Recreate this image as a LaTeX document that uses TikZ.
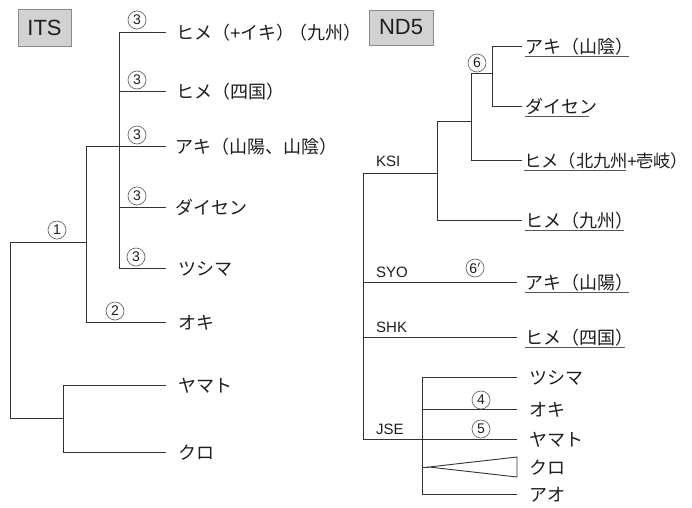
\documentclass[tikz,border=0pt]{standalone}
\usepackage{fontspec}
\setmainfont{Liberation Sans}
\newfontfamily\jp{Noto Sans CJK JP}
\definecolor{linec}{HTML}{333333}
\definecolor{txtc}{HTML}{1E1E1E}
\definecolor{ulc}{HTML}{555555}
\definecolor{boxfill}{HTML}{D2D2D2}
\definecolor{boxline}{HTML}{8A8A8A}
\definecolor{circc}{HTML}{6A6A6A}
\newcommand\ulx[2][6pt]{\setbox0=\hbox{#2}\rlap{\color{ulc}\rule[-3.6pt]{\dimexpr\wd0-#1\relax}{0.8pt}}\box0}
\newcommand\pl{{\normalfont +}}
\tikzset{
  br/.style={draw=linec, line width=0.9pt},
  lab/.style={anchor=base west, inner sep=0pt, text=txtc, font=\jp\fontsize{18}{18}\selectfont},
  num/.style={circle, draw=circc, line width=0.7pt, minimum size=18pt, inner sep=0pt, text=txtc, font=\fontsize{14}{14}\selectfont},
  tag/.style={anchor=base west, inner sep=0pt, text=txtc, font=\fontsize{15}{15}\selectfont},
  titlebox/.style={draw=boxline, fill=boxfill, line width=1pt, inner sep=0pt, text=txtc, font=\fontsize{22}{22}\selectfont}
}
\begin{document}
\begin{tikzpicture}[x=1pt,y=-1pt]
\useasboundingbox (0,0) rectangle (692,507);
\fill[white] (0,0) rectangle (692,507);

% ---------- titles ----------
\node[titlebox, minimum width=53pt, minimum height=37pt] (its) at (44.5,27.5) {ITS};
\node[titlebox, minimum width=64pt, minimum height=35pt] (nd5) at (401,27.5) {ND5};

% ---------- left tree ----------
\coordinate (t1) at (166,32);
\coordinate (t2) at (166,91);
\coordinate (t3) at (166,146);
\coordinate (t4) at (166,207);
\coordinate (t5) at (166,268);
\coordinate (t6) at (166,322);
\coordinate (t7) at (166,385);
\coordinate (t8) at (166,452);
\coordinate (c3b) at (119.5,268);
\coordinate (c3x2) at (119.5,91);
\coordinate (c3x3) at (119.5,146);
\coordinate (c3x4) at (119.5,207);
\coordinate (j2) at (86,146);
\coordinate (j2b) at (86,242);
\coordinate (r1) at (10,242);
\coordinate (r2) at (63,418);
\coordinate (jb) at (63,452);

\draw[br] (t1) -| (c3b) -- (t5);
\draw[br] (c3x2) -- (t2);
\draw[br] (c3x3) -- (t3);
\draw[br] (c3x4) -- (t4);
\draw[br] (c3x3) -- (j2) |- (t6);
\draw[br] (j2b) -- (r1) |- (r2);
\draw[br] (t7) -| (jb) -- (t8);

\node[lab] (l1) at (176,39) {ヒメ（\pl イキ）\kern-5pt（九州）};
\node[lab] (l2) at (176,98) {ヒメ（四国）};
\node[lab] (l3) at (175,153) {アキ（山陽、山陰）};
\node[lab] (l4) at (175,214) {ダイセン};
\node[lab] (l5) at (178,275) {ツシマ};
\node[lab] (l6) at (178,329) {オキ};
\node[lab] (l7) at (178,392) {ヤマト};
\node[lab] (l8) at (178,459) {クロ};

\node[num] (n3a) at (137,20) {3};
\node[num] (n3b) at (137,80) {3};
\node[num] (n3c) at (137,135) {3};
\node[num] (n3d) at (137,196) {3};
\node[num] (n3e) at (136,257) {3};
\node[num] (n2) at (115,311) {2};
\node[num] (n1) at (57,230) {1};

% ---------- right tree ----------
\coordinate (rA) at (522,46);
\coordinate (rD) at (522,106);
\coordinate (rH1) at (522,160);
\coordinate (rH2) at (522,220);
\coordinate (s6b) at (492,106);
\coordinate (s6m) at (492,73);
\coordinate (s5) at (471,73);
\coordinate (s5m) at (471,121);
\coordinate (s4) at (437,121);
\coordinate (s4m) at (437,173);
\coordinate (s0) at (363,173);
\coordinate (s0b) at (363,439);
\coordinate (syo) at (363,282);
\coordinate (shk) at (363,337);
\coordinate (rS) at (517,282);
\coordinate (rK) at (517,337);
\coordinate (rT) at (517,377);
\coordinate (rO) at (517,409);
\coordinate (rY) at (517,439);
\coordinate (rAo) at (517,494);
\coordinate (jse) at (422,494);
\coordinate (jseO) at (422,409);
\coordinate (jseK) at (422,467);
\coordinate (tri) at (429,467);
\coordinate (triU) at (517,457);
\coordinate (triL) at (517,477);

\draw[br] (rA) -| (s6b) -- (rD);
\draw[br] (s6m) -- (s5) |- (rH1);
\draw[br] (s5m) -- (s4) |- (rH2);
\draw[br] (s4m) -- (s0) -- (s0b) -- (rY);
\draw[br] (syo) -- (rS);
\draw[br] (shk) -- (rK);
\draw[br] (rT) -| (jse) -- (rAo);
\draw[br] (jseO) -- (rO);
\draw[br] (jseK) -- (tri);
\draw[br, line join=miter] (tri) -- (triU) -- (triL) -- cycle;

\node[lab] (m1) at (525,53) {\ulx[4pt]{アキ（山陰）}};
\node[lab] (m2) at (525,113) {\ulx[8pt]{ダイセン}};
\node[lab, font=\jp\fontsize{17.3}{17.3}\selectfont] (m3) at (524,167) {\ulx[2pt]{ヒメ（北九州}\kern-1pt\pl\kern-1pt 壱岐）\kern-8pt};
\node[lab] (m4) at (525,227) {\ulx[9pt]{ヒメ（九州）}};
\node[lab] (m5) at (525,289) {\ulx[4pt]{アキ（山陽）}};
\node[lab] (m6) at (525,344) {\ulx[8pt]{ヒメ（四国）}};
\node[lab] (m7) at (529,384) {ツシマ};
\node[lab] (m8) at (529,416) {オキ};
\node[lab] (m9) at (529,446) {ヤマト};
\node[lab] (m10) at (529,474) {クロ};
\node[lab] (m11) at (529,501) {アオ};

\node[tag] (ksi) at (376,166) {KSI};
\node[tag] (syot) at (376,277) {SYO};
\node[tag] (shkt) at (376,332) {SHK};
\node[tag] (jset) at (376,434) {JSE};

\node[num] (n6) at (477,63) {6};
\node[num] (n6p) at (475,268) {6$'$};
\node[num] (n4) at (481,400) {4};
\node[num] (n5) at (481,429) {5};
\end{tikzpicture}
\end{document}
